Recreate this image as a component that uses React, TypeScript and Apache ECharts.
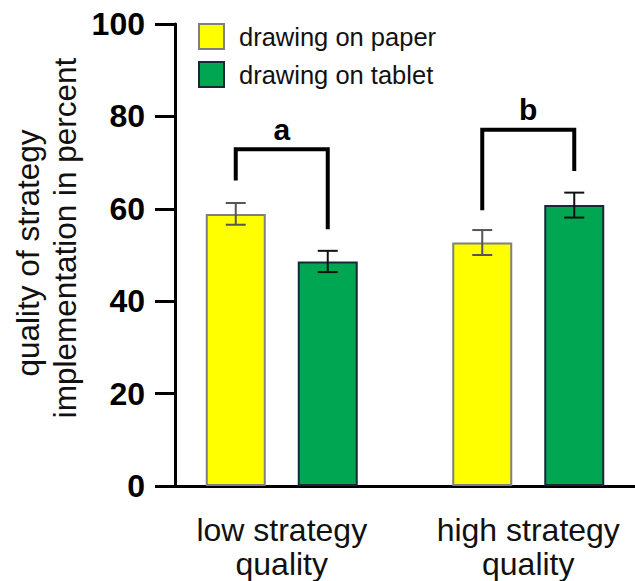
import React, { useEffect, useRef } from 'react';
import * as echarts from 'echarts';

const categories = ['low strategy\nquality', 'high strategy\nquality'];
const seriesNames = ['drawing on paper', 'drawing on tablet'];
const paperMean = [58.9, 52.7];
const paperErr = [2.35, 2.7];
const tabletMean = [48.6, 60.8];
const tabletErr = [2.3, 2.7];
const yMin = 0;
const yMax = 100;
const yInterval = 20;
const bracketLabels = ['a', 'b'];
const bracketTop = [72.9, 77.1];
const bracketLeftEnd = [66.1, 59.7];
const bracketRightEnd = [55.6, 68.2];
const yTitleLines = ['quality of strategy', 'implementation in percent'];

const FONT = '"Liberation Sans", Arial, Helvetica, sans-serif';
const BAR_WIDTH = 60;
const BAR_GAP = 32;
const SIDE = BAR_WIDTH / 2 + BAR_GAP / 2;

const YELLOW = '#FFFF00';
const YELLOW_BORDER = '#7F7F7F';
const GREEN = '#00A651';
const GREEN_BORDER = '#17283A';

function errorSeries(name: string, means: number[], errs: number[], side: number, color: string) {
  return {
    name: name + ' error',
    type: 'custom',
    z: 5,
    silent: true,
    data: means.map((m, i) => [i, m, errs[i]]),
    encode: { x: 0, y: 1 },
    renderItem: (params: any, api: any) => {
      const cat = api.value(0);
      const mean = api.value(1);
      const err = api.value(2);
      const x = api.coord([cat, mean])[0] + side;
      const yTop = api.coord([cat, mean + err])[1];
      const yBot = api.coord([cat, mean - err])[1];
      const style = { stroke: color, lineWidth: 2 };
      const cap = 10;
      return {
        type: 'group',
        children: [
          { type: 'line', shape: { x1: x, y1: yTop, x2: x, y2: yBot }, style },
          { type: 'line', shape: { x1: x - cap, y1: yTop, x2: x + cap, y2: yTop }, style },
          { type: 'line', shape: { x1: x - cap, y1: yBot, x2: x + cap, y2: yBot }, style },
        ],
      };
    },
  };
}

export default function App() {
  const ref = useRef<HTMLDivElement>(null);
  useEffect(() => {
    if (!ref.current) return;
    const chart = echarts.init(ref.current, undefined, { renderer: 'svg' });
    chart.setOption({
      animation: false,
      grid: {
        left: 158.5,
        top: 24,
        width: 493,
        height: 462,
        containLabel: false,
        outerBoundsMode: 'none',
      },
      legend: {
        data: seriesNames,
        orient: 'vertical',
        left: 198,
        top: 23,
        itemWidth: 25,
        itemHeight: 25,
        itemGap: 11,
        icon: 'rect',
        padding: 0,
        textStyle: { fontFamily: FONT, fontSize: 25.5, color: '#111', padding: [0, 0, 0, 10] },
      },
      xAxis: {
        type: 'category',
        data: categories,
        axisLine: { show: true, lineStyle: { color: '#000', width: 3 } },
        axisTick: { show: false },
        axisLabel: {
          fontFamily: FONT,
          fontSize: 32,
          lineHeight: 34,
          color: '#111',
          margin: 27,
        },
      },
      yAxis: {
        type: 'value',
        min: yMin,
        max: yMax,
        interval: yInterval,
        offset: -16.5,
        splitLine: { show: false },
        axisLine: { show: true, lineStyle: { color: '#000', width: 3 } },
        axisTick: { show: true, length: 20, lineStyle: { color: '#000', width: 3 } },
        axisLabel: {
          fontFamily: FONT,
          fontSize: 32,
          fontWeight: 'bold',
          color: '#000',
          margin: 30,
        },
      },
      graphic: yTitleLines.map((t, i) => ({
        type: 'text',
        x: i === 0 ? 28 : 65,
        y: i === 0 ? 253 : 238,
        rotation: Math.PI / 2,
        style: {
          text: t,
          fontFamily: FONT,
          fontSize: 31.5,
          fill: '#111',
          textAlign: 'center',
          textVerticalAlign: 'middle',
        },
      })),
      series: [
        {
          name: seriesNames[0],
          type: 'bar',
          data: paperMean,
          barWidth: BAR_WIDTH,
          barGap: (BAR_GAP / BAR_WIDTH) * 100 + '%',
          itemStyle: { color: YELLOW, borderColor: YELLOW_BORDER, borderWidth: 2 },
        },
        {
          name: seriesNames[1],
          type: 'bar',
          data: tabletMean,
          barWidth: BAR_WIDTH,
          barGap: (BAR_GAP / BAR_WIDTH) * 100 + '%',
          itemStyle: { color: GREEN, borderColor: GREEN_BORDER, borderWidth: 2 },
        },
        errorSeries(seriesNames[0], paperMean, paperErr, -SIDE, '#555'),
        errorSeries(seriesNames[1], tabletMean, tabletErr, SIDE, '#111'),
        {
          name: 'significance',
          type: 'custom',
          z: 6,
          silent: true,
          data: bracketTop.map((t, i) => [i, t, bracketLeftEnd[i], bracketRightEnd[i]]),
          encode: { x: 0, y: 1 },
          renderItem: (params: any, api: any) => {
            const cat = api.value(0);
            const top = api.coord([cat, api.value(1)]);
            const yL = api.coord([cat, api.value(2)])[1];
            const yR = api.coord([cat, api.value(3)])[1];
            const xL = top[0] - SIDE;
            const xR = top[0] + SIDE;
            return {
              type: 'group',
              children: [
                {
                  type: 'polyline',
                  shape: { points: [[xL, yL], [xL, top[1]], [xR, top[1]], [xR, yR]] },
                  style: { stroke: '#000', lineWidth: 4, fill: 'none', lineJoin: 'miter' },
                },
                {
                  type: 'text',
                  x: top[0],
                  y: top[1] - 5,
                  style: {
                    text: bracketLabels[params.dataIndex],
                    fontFamily: FONT,
                    fontSize: 30,
                    fontWeight: 'bold',
                    fill: '#000',
                    textAlign: 'center',
                    textVerticalAlign: 'bottom',
                  },
                },
              ],
            };
          },
        },
      ],
    });
    return () => chart.dispose();
  }, []);
  return (
    <div
      ref={ref}
      style={{ position: 'fixed', left: 0, top: 0, width: 635, height: 581, background: '#fff' }}
    />
  );
}
